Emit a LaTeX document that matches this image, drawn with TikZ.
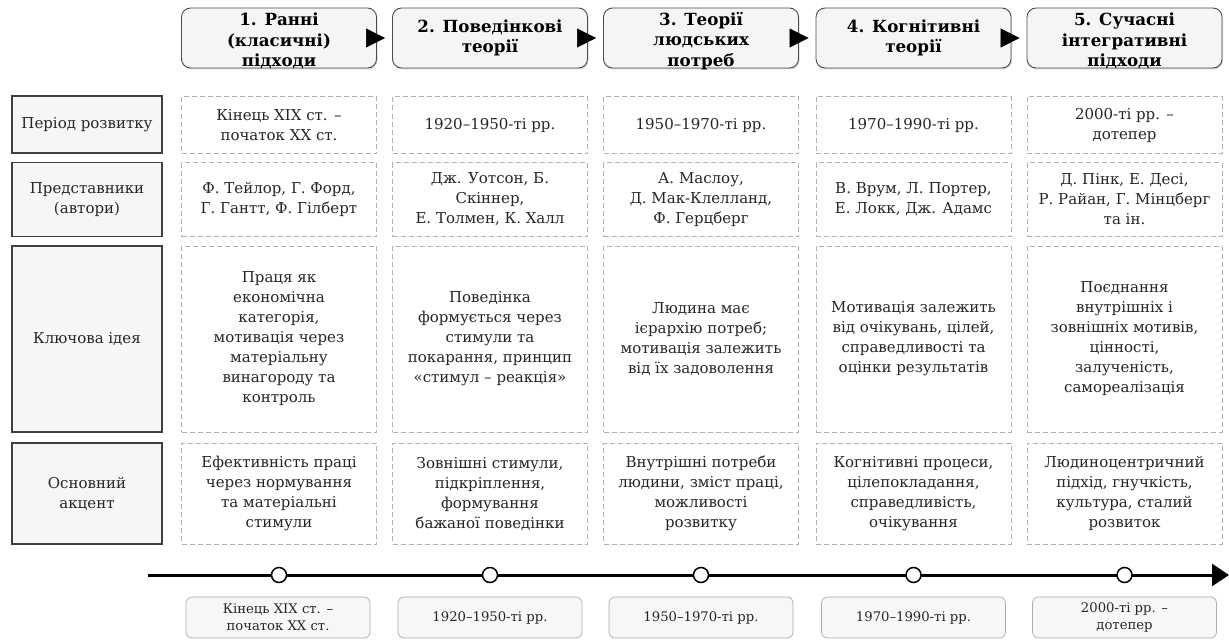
\documentclass[tikz,border=0pt]{standalone}
\usepackage{fontspec}
\setmainfont{DejaVu Serif}
\usetikzlibrary{arrows.meta,shadows}

\tikzset{
  phasebox/.style={rounded corners=9pt, draw=black!70, fill=gray!8, line width=0.9pt,
    minimum width=195pt, minimum height=60pt, inner sep=0pt,
    drop shadow={shadow xshift=1pt, shadow yshift=-1.5pt, opacity=0.3}},
  phasetext/.style={align=center, font=\bfseries\fontsize{16.7}{20.5}\selectfont, inner sep=0pt},
  rowlabel/.style={draw=black!75, fill=gray!7, line width=1.4pt, minimum width=150pt,
    align=center, inner sep=0pt, font=\fontsize{15}{20}\selectfont, text=black!85},
  cell/.style={draw=gray!60, dashed, dash pattern=on 5pt off 3pt, line width=0.8pt, fill=white,
    minimum width=195pt, align=center, inner sep=0pt,
    font=\fontsize{15}{20}\selectfont, text=black!85},
  flow/.style={line width=0.6pt, -{Triangle[length=19pt,width=19pt]}},
  axis/.style={line width=3pt, -{Triangle[length=17pt,width=22pt]}},
  tick/.style={circle, draw=black, fill=white, line width=1.5pt, minimum size=15pt, inner sep=0pt},
  datebox/.style={rounded corners=6pt, draw=gray!65, fill=gray!6, line width=0.7pt,
    minimum width=184pt, minimum height=41pt, align=center, inner sep=0pt,
    font=\fontsize{13.2}{17}\selectfont, text=black!85}
}

\begin{document}
\begin{tikzpicture}[x=1pt, y=-1pt]
\useasboundingbox[fill=white] (0,0) rectangle (1229,642);

% phase headers
\node[phasebox] (h1) at (279,38) {};
\node[phasebox] (h2) at (490,38) {};
\node[phasebox] (h3) at (701,38) {};
\node[phasebox] (h4) at (913.5,38) {};
\node[phasebox] (h5) at (1124.5,38) {};
\node[phasetext] (t1) at (279,41) {1. Ранні\\(класичні)\\підходи};
\node[phasetext] (t2) at (490,38) {2. Поведінкові\\теорії};
\node[phasetext] (t3) at (701,41) {3. Теорії\\людських\\потреб};
\node[phasetext] (t4) at (913.5,38) {4. Когнітивні\\теорії};
\node[phasetext] (t5) at (1124.5,41) {5. Сучасні\\інтегративні\\підходи};
\draw[flow] ([xshift=-9pt]h1.east) -- ([xshift=-7pt]h2.west);
\draw[flow] ([xshift=-9pt]h2.east) -- ([xshift=-7pt]h3.west);
\draw[flow] ([xshift=-9pt]h3.east) -- ([xshift=-7pt]h4.west);
\draw[flow] ([xshift=-9pt]h4.east) -- ([xshift=-7pt]h5.west);

% row headings
\node[rowlabel, minimum height=57pt] (l1) at (87,124.5) {Період розвитку};
\node[rowlabel, minimum height=74pt] (l2) at (87,199.5) {Представники\\(автори)};
\node[rowlabel, minimum height=186pt] (l3) at (87,339) {Ключова ідея};
\node[rowlabel, minimum height=101pt] (l4) at (87,493.5) {Основний\\акцент};

% period of development
\node[cell, minimum height=57pt] (p1) at (279,125) {Кінець XIX ст. –\\початок XX ст.};
\node[cell, minimum height=57pt] (p2) at (490,125) {1920–1950-ті рр.};
\node[cell, minimum height=57pt] (p3) at (701,125) {1950–1970-ті рр.};
\node[cell, minimum height=57pt] (p4) at (913.5,125) {1970–1990-ті рр.};
\node[cell, minimum height=57pt] (p5) at (1124.5,125) {2000-ті рр. –\\дотепер};

% authors
\node[cell, minimum height=74pt] (a1) at (279,199.5) {Ф. Тейлор, Г. Форд,\\Г. Гантт, Ф. Гілберт};
\node[cell, minimum height=74pt] (a2) at (490,199.5) {Дж. Уотсон, Б.\\Скіннер,\\Е. Толмен, К. Халл};
\node[cell, minimum height=74pt] (a3) at (701,199.5) {А. Маслоу,\\Д. Мак-Клелланд,\\Ф. Герцберг};
\node[cell, minimum height=74pt] (a4) at (913.5,199.5) {В. Врум, Л. Портер,\\Е. Локк, Дж. Адамс};
\node[cell, minimum height=74pt] (a5) at (1124.5,199.5) {Д. Пінк, Е. Десі,\\Р. Райан, Г. Мінцберг\\та ін.};

% key idea
\node[cell, minimum height=186pt] (k1) at (279,339) {Праця як\\економічна\\категорія,\\мотивація через\\матеріальну\\винагороду та\\контроль};
\node[cell, minimum height=186pt] (k2) at (490,339) {Поведінка\\формується через\\стимули та\\покарання, принцип\\«стимул – реакція»};
\node[cell, minimum height=186pt] (k3) at (701,339) {Людина має\\ієрархію потреб;\\мотивація залежить\\від їх задоволення};
\node[cell, minimum height=186pt] (k4) at (913.5,339) {Мотивація залежить\\від очікувань, цілей,\\справедливості та\\оцінки результатів};
\node[cell, minimum height=186pt] (k5) at (1124.5,339) {Поєднання\\внутрішніх і\\зовнішніх мотивів,\\цінності,\\залученість,\\самореалізація};

% main emphasis
\node[cell, minimum height=101pt] (e1) at (279,493.5) {Ефективність праці\\через нормування\\та матеріальні\\стимули};
\node[cell, minimum height=101pt] (e2) at (490,493.5) {Зовнішні стимули,\\підкріплення,\\формування\\бажаної поведінки};
\node[cell, minimum height=101pt] (e3) at (701,493.5) {Внутрішні потреби\\людини, зміст праці,\\можливості\\розвитку};
\node[cell, minimum height=101pt] (e4) at (913.5,493.5) {Когнітивні процеси,\\цілепокладання,\\справедливість,\\очікування};
\node[cell, minimum height=101pt] (e5) at (1124.5,493.5) {Людиноцентричний\\підхід, гнучкість,\\культура, сталий\\розвиток};

% time axis
\coordinate (ax0) at (148,575);
\coordinate (ax1) at (1229,575);
\draw[axis] (ax0) -- (ax1);
\node[tick] (c1) at (279,575) {};
\node[tick] (c2) at (490,575) {};
\node[tick] (c3) at (701,575) {};
\node[tick] (c4) at (913.5,575) {};
\node[tick] (c5) at (1124.5,575) {};

% dates under the axis
\node[datebox] (d1) at (278,617.5) {Кінець XIX ст. –\\початок XX ст.};
\node[datebox] (d2) at (490,617.5) {1920–1950-ті рр.};
\node[datebox] (d3) at (701,617.5) {1950–1970-ті рр.};
\node[datebox] (d4) at (913.5,617.5) {1970–1990-ті рр.};
\node[datebox] (d5) at (1124.5,617.5) {2000-ті рр. –\\дотепер};
\end{tikzpicture}
\end{document}
